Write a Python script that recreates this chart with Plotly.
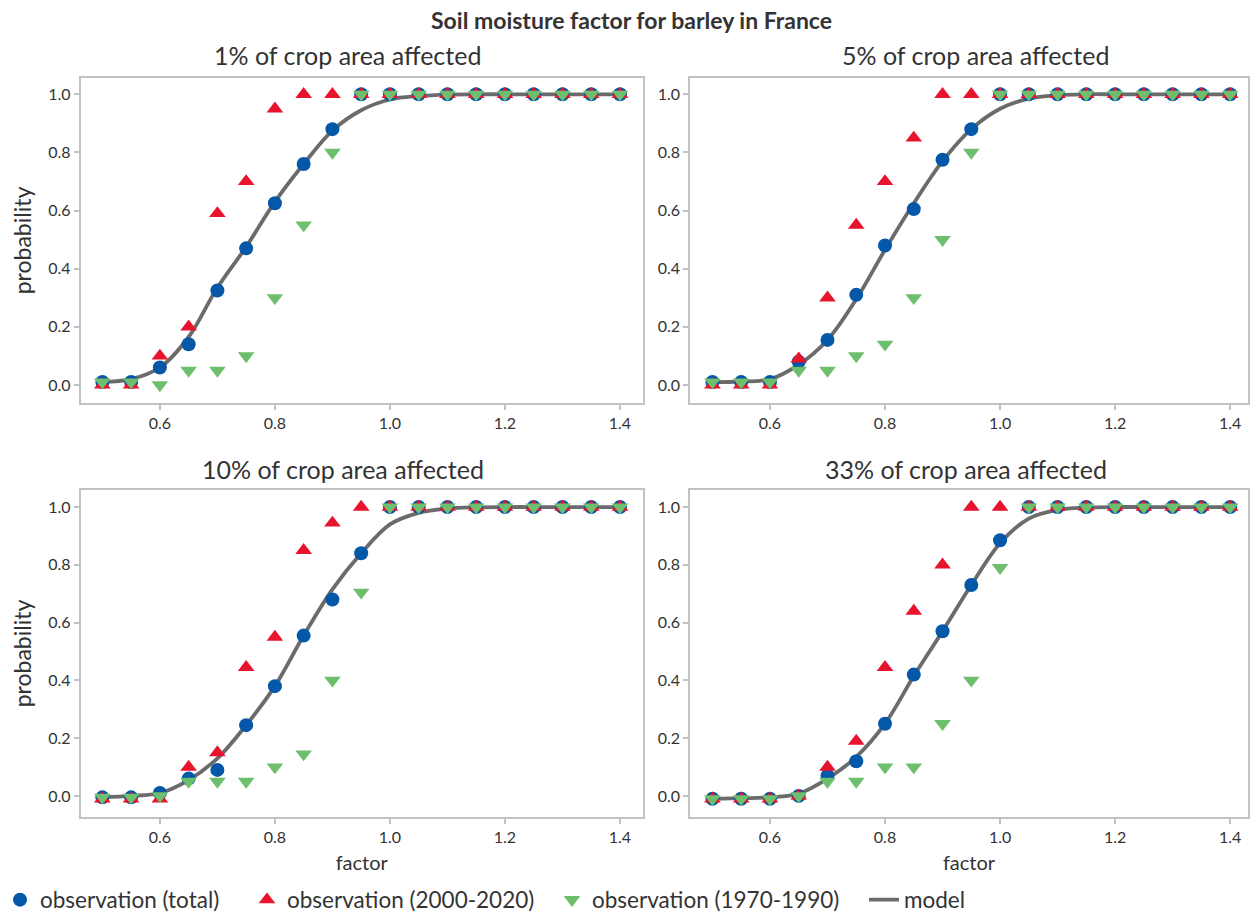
import plotly.graph_objects as go

# ---------------- data ----------------
factor = [0.5, 0.55, 0.6, 0.65, 0.7, 0.75, 0.8, 0.85, 0.9, 0.95,
          1.0, 1.05, 1.1, 1.15, 1.2, 1.25, 1.3, 1.35, 1.4]

panel_titles = ["1% of crop area affected", "5% of crop area affected",
                "10% of crop area affected", "33% of crop area affected"]

# 1% of crop area affected
p1_total = [0.01, 0.01, 0.06, 0.14, 0.325, 0.47, 0.625, 0.76, 0.88, 1.0, 1.0, 1.0, 1.0, 1.0, 1.0, 1.0, 1.0, 1.0, 1.0]
p1_recent = [0.0, 0.0, 0.10, 0.20, 0.59, 0.70, 0.95, 1.0, 1.0, 1.0, 1.0, 1.0, 1.0, 1.0, 1.0, 1.0, 1.0, 1.0, 1.0]
p1_early = [0.01, 0.01, 0.0, 0.05, 0.05, 0.10, 0.30, 0.55, 0.80, 1.0, 1.0, 1.0, 1.0, 1.0, 1.0, 1.0, 1.0, 1.0, 1.0]
p1_model = [0.01, 0.02, 0.06, 0.165, 0.335, 0.475, 0.63, 0.76, 0.875, 0.945, 0.982, 0.994, 0.999, 1.0, 1.0, 1.0, 1.0, 1.0, 1.0]

# 5% of crop area affected
p2_total = [0.01, 0.01, 0.01, 0.08, 0.155, 0.31, 0.48, 0.605, 0.775, 0.88, 1.0, 1.0, 1.0, 1.0, 1.0, 1.0, 1.0, 1.0, 1.0]
p2_recent = [0.0, 0.0, 0.0, 0.09, 0.30, 0.55, 0.70, 0.85, 1.0, 1.0, 1.0, 1.0, 1.0, 1.0, 1.0, 1.0, 1.0, 1.0, 1.0]
p2_early = [0.01, 0.01, 0.01, 0.05, 0.05, 0.10, 0.14, 0.30, 0.50, 0.80, 1.0, 1.0, 1.0, 1.0, 1.0, 1.0, 1.0, 1.0, 1.0]
p2_model = [0.01, 0.012, 0.02, 0.07, 0.155, 0.295, 0.465, 0.625, 0.77, 0.88, 0.95, 0.985, 0.997, 1.0, 1.0, 1.0, 1.0, 1.0, 1.0]

# 10% of crop area affected
p3_total = [-0.005, -0.005, 0.01, 0.06, 0.09, 0.245, 0.38, 0.555, 0.68, 0.84, 1.0, 1.0, 1.0, 1.0, 1.0, 1.0, 1.0, 1.0, 1.0]
p3_recent = [-0.01, -0.01, -0.01, 0.10, 0.15, 0.445, 0.55, 0.85, 0.945, 1.0, 1.0, 1.0, 1.0, 1.0, 1.0, 1.0, 1.0, 1.0, 1.0]
p3_early = [-0.005, -0.005, 0.0, 0.05, 0.05, 0.05, 0.10, 0.145, 0.40, 0.705, 1.0, 1.0, 1.0, 1.0, 1.0, 1.0, 1.0, 1.0, 1.0]
p3_model = [-0.005, 0.0, 0.01, 0.055, 0.13, 0.245, 0.38, 0.555, 0.715, 0.84, 0.94, 0.98, 0.995, 0.999, 1.0, 1.0, 1.0, 1.0, 1.0]

# 33% of crop area affected
p4_total = [-0.01, -0.01, -0.01, 0.0, 0.07, 0.12, 0.25, 0.42, 0.57, 0.73, 0.885, 1.0, 1.0, 1.0, 1.0, 1.0, 1.0, 1.0, 1.0]
p4_recent = [-0.01, -0.01, -0.01, 0.0, 0.10, 0.19, 0.445, 0.64, 0.80, 1.0, 1.0, 1.0, 1.0, 1.0, 1.0, 1.0, 1.0, 1.0, 1.0]
p4_early = [-0.01, -0.01, -0.01, 0.0, 0.05, 0.05, 0.10, 0.10, 0.25, 0.40, 0.79, 1.0, 1.0, 1.0, 1.0, 1.0, 1.0, 1.0, 1.0]
p4_model = [-0.01, -0.008, -0.005, 0.008, 0.06, 0.135, 0.25, 0.415, 0.57, 0.73, 0.875, 0.96, 0.99, 0.998, 1.0, 1.0, 1.0, 1.0, 1.0]

x_ticks = [0.6, 0.8, 1.0, 1.2, 1.4]
y_ticks = [0.0, 0.2, 0.4, 0.6, 0.8, 1.0]

series_names = ["observation (total)", "observation (2000-2020)",
                "observation (1970-1990)", "model"]

panels = [
    (p1_total, p1_recent, p1_early, p1_model),
    (p2_total, p2_recent, p2_early, p2_model),
    (p3_total, p3_recent, p3_early, p3_model),
    (p4_total, p4_recent, p4_early, p4_model),
]

# ---------------- style ----------------
W, H = 1250, 914
FONT = "Lato, 'Open Sans', sans-serif"
TXT = "#333333"
FRAME = "#c2c2c2"
BLUE = "#0557a8"
RED = "#e8132d"
GREEN = "#6dbf6d"
GREY = "#6b6b6b"

# pixel boxes (left, right, top, bottom)
boxes = [
    (80.5, 643, 78, 403),
    (690, 1248, 78, 403),
    (80.5, 643, 490, 817),
    (690, 1248, 490, 817),
]
x_ranges = [[0.462, 1.44], [0.461, 1.431], [0.462, 1.44], [0.461, 1.431]]
y_ranges = [[-0.062, 1.056], [-0.062, 1.056], [-0.073, 1.059], [-0.073, 1.059]]
title_cx = [347, 975, 343, 966]
title_cy = [55, 55, 469, 469]
legend_left_px = [0, 247, 552, 864]

fig = go.Figure()

for i, (tot, rec, ear, mod) in enumerate(panels):
    xa = "x" if i == 0 else f"x{i+1}"
    ya = "y" if i == 0 else f"y{i+1}"
    show = i == 0
    fig.add_trace(go.Scatter(
        x=factor, y=mod, mode="lines", name=series_names[3],
        line=dict(color=GREY, width=3.8, shape="spline", smoothing=1.0),
        xaxis=xa, yaxis=ya, showlegend=show, legend="legend4"))
    fig.add_trace(go.Scatter(
        x=factor, y=tot, mode="markers", name=series_names[0],
        marker=dict(symbol="circle", size=14, color=BLUE),
        xaxis=xa, yaxis=ya, showlegend=show, legend="legend"))
    fig.add_trace(go.Scatter(
        x=factor, y=rec, mode="markers", name=series_names[1],
        marker=dict(symbol="triangle-up", size=14.5, color=RED),
        xaxis=xa, yaxis=ya, showlegend=show, legend="legend2"))
    fig.add_trace(go.Scatter(
        x=factor, y=ear, mode="markers", name=series_names[2],
        marker=dict(symbol="triangle-down", size=14.5, color=GREEN),
        xaxis=xa, yaxis=ya, showlegend=show, legend="legend3"))

layout = dict(
    width=W, height=H,
    margin=dict(l=0, r=0, t=0, b=0, autoexpand=False),
    paper_bgcolor="white", plot_bgcolor="white",
    font=dict(family=FONT, color=TXT, size=16),
    showlegend=True,
    annotations=[],
)

for k, lx in enumerate(legend_left_px):
    key = "legend" if k == 0 else f"legend{k+1}"
    layout[key] = dict(orientation="h", x=lx / W, xanchor="left",
                       y=(H - 900) / H, yanchor="middle",
                       font=dict(size=22.5, color=TXT, family=FONT),
                       bgcolor="rgba(0,0,0,0)", itemwidth=30)

for i, (l, r, t, b) in enumerate(boxes):
    suffix = "" if i == 0 else str(i + 1)
    dom_x = [l / W, r / W]
    dom_y = [1 - b / H, 1 - t / H]
    axis_common = dict(showline=True, mirror=True, linecolor=FRAME, linewidth=1.5,
                       ticks="outside", ticklen=5, tickcolor=FRAME, tickwidth=1.5,
                       showgrid=False, zeroline=False,
                       tickfont=dict(size=16, color=TXT, family=FONT))
    layout["xaxis" + suffix] = dict(
        domain=dom_x, range=x_ranges[i], anchor="y" + suffix,
        tickvals=x_ticks, tickformat=".1f", **axis_common,
        title=dict(text="factor" if i >= 2 else "", font=dict(size=20), standoff=11))
    layout["yaxis" + suffix] = dict(
        domain=dom_y, range=y_ranges[i], anchor="x" + suffix,
        tickvals=y_ticks, tickformat=".1f", **axis_common,
        title=dict(text="probability" if i in (0, 2) else "", font=dict(size=23), standoff=10))
    layout["annotations"].append(dict(
        text=panel_titles[i], x=title_cx[i] / W, y=1 - title_cy[i] / H,
        xref="paper", yref="paper", xanchor="center", yanchor="middle",
        showarrow=False, font=dict(size=25, color=TXT, family=FONT)))

layout["annotations"].append(dict(
    text="<b>Soil moisture factor for barley in France</b>",
    x=631 / W, y=1 - 20 / H, xref="paper", yref="paper",
    xanchor="center", yanchor="middle", showarrow=False,
    font=dict(size=23, color=TXT, family=FONT)))

fig.update_layout(**layout)
fig.write_html("out.html", config={"displayModeBar": False},
               post_script="document.body.style.margin='0';")
